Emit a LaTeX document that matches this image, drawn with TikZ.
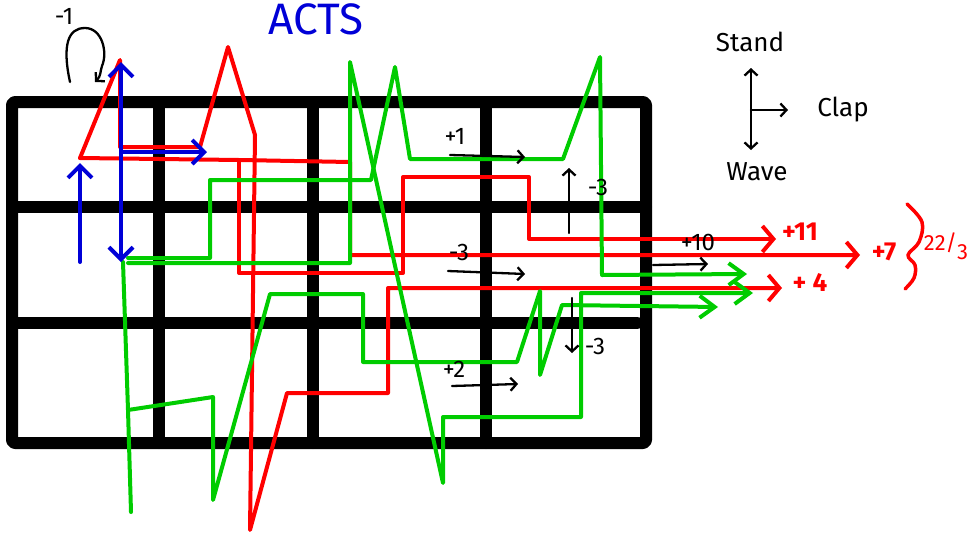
\documentclass[tikz,border=0pt]{standalone}
\usepackage{fontspec}
\setmainfont{Fira Sans}
\usetikzlibrary{arrows.meta}
\definecolor{pr}{RGB}{255,0,0}
\definecolor{pg}{RGB}{0,204,0}
\definecolor{pb}{RGB}{0,0,215}
\tikzset{
  gridline/.style={line width=12pt, black},
  redpath/.style={pr, line width=4pt},
  greenpath/.style={pg, line width=4pt},
  bluepath/.style={pb, line width=4pt},
  redtip/.style={-{Straight Barb[length=11pt,width=26pt,line width=4pt]}},
  greentip/.style={-{Straight Barb[length=15pt,width=22pt,line width=4pt]}},
  bluetip/.style={-{Straight Barb[length=12pt,width=24pt,line width=4pt]}},
  inkarrow/.style={black, line width=2.3pt, -{Straight Barb[length=6pt,width=13pt]}},
  lbl/.style={inner sep=0pt, font=\fontsize{24}{26}\selectfont},
  legend/.style={inner sep=0pt, font=\fontsize{26}{28}\selectfont},
  redlbl/.style={inner sep=0pt, text=pr, font=\bfseries\fontsize{26}{28}\selectfont}
}
\begin{document}
\begin{tikzpicture}[x=1pt,y=-1pt, line cap=round, line join=round]
\useasboundingbox (0,0) rectangle (968,536);

% title
\node[anchor=base west, inner sep=0pt, text=pb, font=\fontsize{44}{46}\selectfont] (title) at (268,34) {ACTS};

% grid
\draw[gridline, rounded corners=3pt] (12,102) rectangle (646,443);
\draw[gridline] (159,102) -- (159,443);
\draw[gridline] (313,102) -- (313,443);
\draw[gridline] (486,102) -- (486,443);
\draw[gridline] (12,207) -- (646,207);
\draw[gridline] (12,323) -- (637,323);

% red routes
\coordinate (rstart) at (80,158);
\coordinate (rsplit) at (239,160);
\coordinate (r4) at (782,288);
\coordinate (r7) at (860,255);
\coordinate (r11) at (776,239);
\draw[redpath, redtip] (rstart) -- (120,60) -- (120,147) -- (200,147) -- (228,47) -- (255,135) -- (250,530) -- (287,393) -- (388,393) -- (388,288) -- (r4);
\draw[redpath, redtip] (rstart) -- (rsplit) -- (350,162) -- (350,255) -- (r7);
\draw[redpath, redtip] (rsplit) -- (239,273) -- (403,273) -- (403,177) -- (529,177) -- (529,239) -- (r11);

% green routes
\coordinate (g1) at (747,274);
\coordinate (g2) at (753,293);
\coordinate (g3) at (718,307);
\coordinate (gj) at (128,410);
\draw[greenpath, greentip] (128,258) -- (210,258) -- (210,180) -- (371,180) -- (395,67) -- (410,159) -- (563,159) -- (600,57) -- (602,275) -- (g1);
\draw[greenpath, greentip] (128,263) -- (350,263) -- (350,62) -- (443,483) -- (443,417) -- (581,417) -- (581,293) -- (g2);
\draw[greenpath] (123,262) -- (gj) -- (131,512);
\draw[greenpath, greentip] (gj) -- (213,397) -- (213,500) -- (270,294) -- (363,294) -- (363,362) -- (517,362) -- (540,291) -- (540,375) -- (562,305) -- (g3);

% blue arrows
\draw[bluepath, bluetip] (80,262) -- (80,163);
\draw[bluepath, {Straight Barb[length=12pt,width=24pt,line width=4pt]}-{Straight Barb[length=12pt,width=24pt,line width=4pt]}] (121,62) -- (121,262);
\draw[bluepath, bluetip] (121,152) -- (207,152);

% loop arrow and -1
\node[lbl] (m1) at (64,16) {-1};
\draw[inkarrow] (70,82) .. controls (62,45) and (68,28) .. (85,28) .. controls (102,28) and (108,52) .. (102,66) .. controls (100,72) and (101,76) .. (95,82);

% small black arrows and labels
\node[lbl] (p1) at (455,136) {+1};
\draw[inkarrow] (450,155) -- (525,157);
\node[lbl] (m3a) at (459,252) {-3};
\draw[inkarrow] (448,271) -- (525,274);
\node[lbl] (p2) at (454,369) {+2};
\draw[inkarrow] (452,386) -- (518,384);
\draw[inkarrow] (569,233) -- (569,168);
\node[lbl] (m3b) at (598,187) {-3};
\draw[inkarrow] (572,298) -- (572,353);
\node[lbl] (m3c) at (595,346) {-3};
\node[lbl] (p10) at (698,242) {+10};
\draw[inkarrow] (653,265) -- (708,264);

% legend
\node[legend] (stand) at (750,42) {Stand};
\node[legend] (clap) at (843,110) {Clap};
\node[legend] (wave) at (757,172) {Wave};
\coordinate (lc) at (751,110);
\draw[black, line width=2.3pt, {Straight Barb[length=6pt,width=13pt]}-{Straight Barb[length=6pt,width=13pt]}] (751,68) -- (751,150);
\draw[inkarrow] (lc) -- (788,110);

% red results
\node[redlbl] (l11) at (800,232) {+11};
\node[redlbl] (l7) at (884,252) {+7};
\node[redlbl] (l4) at (810,282) {+ 4};
\draw[pr, line width=3.5pt] plot[smooth, tension=0.6] coordinates {(907,204) (922,222) (919,242) (908,255) (915,265) (914,278) (905,289)};
\node[inner sep=0pt, text=pr, font=\fontsize{22}{24}\selectfont] (avg) at (946,246) {22/\raisebox{-0.4em}{3}};
\end{tikzpicture}
\end{document}
